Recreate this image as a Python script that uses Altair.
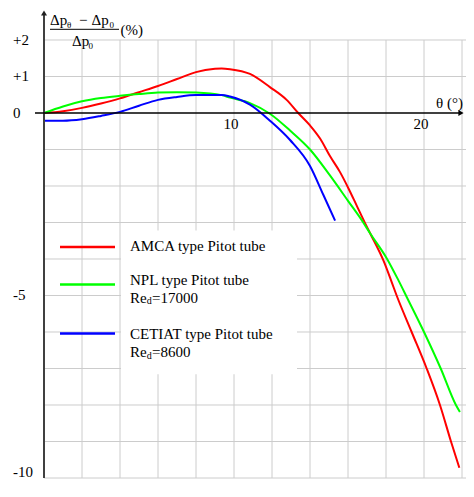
import altair as alt
import pandas as pd

FONT = "Liberation Serif"

# ---- data ----
amca_x = [0, 1, 2, 3, 4, 5, 6, 7, 8, 9, 9.35, 9.79, 10.84, 11.89, 12.77, 13.38, 14.0, 14.53, 15.05,
          15.58, 16.02, 16.47, 16.91, 17.17, 17.88, 18.29, 18.56, 19.35, 20.14, 20.84, 21.42, 21.86]
amca_y = [0, 0.05, 0.14, 0.26, 0.40, 0.57, 0.74, 0.93, 1.12, 1.21, 1.22, 1.20, 1.07, 0.71, 0.36,
          0.0, -0.34, -0.70, -1.18, -1.62, -2.06, -2.55, -3.03, -3.30, -4.06, -4.62, -5.0, -6.0,
          -7.0, -8.0, -9.0, -9.72]

npl_x = [0, 1, 2, 3, 4, 5, 6, 7, 8, 9.35, 9.79, 10.84, 11.89, 12.95, 14.0, 15.05, 16.02, 16.74,
         17.17, 18.05, 18.65, 19.09, 20.0, 20.88, 21.68, 21.89]
npl_y = [0, 0.18, 0.32, 0.41, 0.47, 0.52, 0.56, 0.57, 0.56, 0.49, 0.42, 0.27, -0.02, -0.48, -1.0,
         -1.71, -2.42, -2.95, -3.30, -3.99, -4.58, -5.04, -6.0, -7.0, -8.0, -8.19]

cetiat_x = [0, 1, 2, 3, 4, 5, 6, 7, 8, 9.35, 9.79, 10.84, 11.89, 12.95, 14.0, 14.7, 15.32]
cetiat_y = [-0.21, -0.21, -0.17, -0.08, 0.03, 0.2, 0.36, 0.44, 0.49, 0.49, 0.45, 0.23, -0.21,
            -0.74, -1.45, -2.24, -2.95]

series_names = ["AMCA", "NPL", "CETIAT"]
series_colors = ["#ff0000", "#00ff00", "#0000ff"]

y_tick_values = [2, 1, 0, -5, -10]
y_tick_labels = ["+2", "+1", "0", "-5", "-10"]
y_tick_shift = [0, 0, 0, 0, 0.17]
x_tick_values = [10, 20]
x_tick_labels = ["10", "20"]

grid_x = [2, 4, 6, 8, 10, 12, 14, 16, 18, 20, 22]
grid_y = [2, 1, -1, -2, -3, -4, -5, -6, -7, -8, -9, -10]

X_MAX = 422 / 19
Y_MIN, Y_MAX = -10, 2.767

# ---- tables ----
rows = []
for name, xs, ys in [("AMCA", amca_x, amca_y), ("NPL", npl_x, npl_y), ("CETIAT", cetiat_x, cetiat_y)]:
    for a, b in zip(xs, ys):
        rows.append({"series": name, "x": a, "y": b})
curves = pd.DataFrame(rows)

xsc = alt.Scale(domain=[0, X_MAX], nice=False, zero=False)
ysc = alt.Scale(domain=[Y_MIN, Y_MAX], nice=False, zero=False)
one = pd.DataFrame({"a": [0]})

vgrid = alt.Chart(pd.DataFrame({"x": grid_x, "y0": [Y_MIN] * len(grid_x), "y1": [2] * len(grid_x)})).mark_rule(
    color="#cccccc", strokeWidth=1).encode(
    x=alt.X("x:Q", scale=xsc, axis=None), y=alt.Y("y0:Q", scale=ysc, axis=None), y2="y1:Q")

hgrid = alt.Chart(pd.DataFrame({"y": grid_y, "x0": [0] * len(grid_y), "x1": [X_MAX] * len(grid_y)})).mark_rule(
    color="#cccccc", strokeWidth=1).encode(
    y=alt.Y("y:Q", scale=ysc, axis=None), x=alt.X("x0:Q", scale=xsc, axis=None), x2="x1:Q")

legend_bg = alt.Chart(one).mark_rect(color="white").encode(
    x=alt.value(77), x2=alt.value(253), y=alt.value(218.5), y2=alt.value(362.3))

yaxis = alt.Chart(pd.DataFrame({"x": [0], "y": [Y_MIN]})).mark_rule(color="#404040", strokeWidth=2).encode(
    x=alt.X("x:Q", scale=xsc, axis=None), y=alt.Y("y:Q", scale=ysc, axis=None), y2=alt.value(2))
yarrow = alt.Chart(one).mark_point(shape="triangle-up", filled=True, color="#202020", size=36, opacity=1).encode(
    x=alt.value(0), y=alt.value(1))

xaxis = alt.Chart(pd.DataFrame({"y": [0]})).mark_rule(color="black", strokeWidth=1.5).encode(
    y=alt.Y("y:Q", scale=ysc, axis=None), x=alt.value(-9), x2=alt.value(416))
xarrow = alt.Chart(pd.DataFrame({"y": [0]})).mark_point(shape="triangle-right", filled=True, color="black",
                                                         size=36, opacity=1).encode(
    x=alt.value(417), y=alt.Y("y:Q", scale=ysc, axis=None))

lines = alt.Chart(curves).mark_line(strokeWidth=2, interpolate="monotone").encode(
    x=alt.X("x:Q", scale=xsc, axis=None),
    y=alt.Y("y:Q", scale=ysc, axis=None),
    color=alt.Color("series:N", scale=alt.Scale(domain=series_names, range=series_colors), legend=None),
    detail="series:N")

ytick_df = pd.DataFrame({"v": [a + b for a, b in zip(y_tick_values, y_tick_shift)], "t": y_tick_labels})
yticks = alt.Chart(ytick_df).mark_text(align="left", baseline="middle", font=FONT, fontSize=15, color="black").encode(
    x=alt.value(-31), y=alt.Y("v:Q", scale=ysc, axis=None), text="t:N")

xtick_df = pd.DataFrame({"v": x_tick_values, "t": x_tick_labels, "y": [0, 0]})
xticks = alt.Chart(xtick_df).mark_text(align="center", baseline="middle", font=FONT, fontSize=15,
                                       color="black", dx=-3, dy=11.5).encode(
    x=alt.X("v:Q", scale=xsc, axis=None), y=alt.Y("y:Q", scale=ysc, axis=None), text="t:N")


def txt(s, x, y, size=15, baseline="alphabetic"):
    return alt.Chart(one).mark_text(text=s, align="left", baseline=baseline, font=FONT,
                                    fontSize=size, color="black").encode(x=alt.value(x), y=alt.value(y))


def seg(x1, x2, y, color, w=2.5):
    return alt.Chart(one).mark_rule(color=color, strokeWidth=w).encode(
        x=alt.value(x1), x2=alt.value(x2), y=alt.value(y))


annotations = [
    # y-axis title (fraction)
    txt("Δp", 6, 13), txt("θ", 23, 15.5, size=9), txt("−", 35, 13), txt("Δp", 47.5, 13), txt("0", 65.5, 15.5, size=9),
    seg(6, 75, 17.3, "black", 1),
    txt("Δp", 28, 34), txt("0", 44.5, 36.5, size=9),
    txt("(%)", 76.5, 23),
    # x-axis title
    txt("θ (°)", 392, 95.7),
    # legend
    seg(16, 71, 235, series_colors[0]),
    seg(16, 71, 272.6, series_colors[1]),
    seg(16, 71, 321.5, series_colors[2]),
    txt("AMCA type Pitot tube", 86, 234.3, baseline="middle"),
    txt("NPL type Pitot tube", 86, 268.2, baseline="middle"),
    txt("Re", 86, 285.8, baseline="middle"), txt("d", 102.7, 289.3, size=10, baseline="middle"),
    txt("=17000", 108, 285.8, baseline="middle"),
    txt("CETIAT type Pitot tube", 86, 321.8, baseline="middle"),
    txt("Re", 86, 340.4, baseline="middle"), txt("d", 102.7, 343.9, size=10, baseline="middle"),
    txt("=8600", 108, 340.4, baseline="middle"),
]

chart = alt.layer(vgrid, hgrid, legend_bg, lines, yaxis, yarrow, xaxis, xarrow, yticks, xticks,
                  *annotations).properties(
    width=422, height=466,
    padding={"left": 36, "top": 4, "right": 0, "bottom": 3},
    autosize=alt.AutoSizeParams(type="none"),
).configure_view(stroke=None)

chart.save("out.html", embed_options={"renderer": "svg", "actions": False})
